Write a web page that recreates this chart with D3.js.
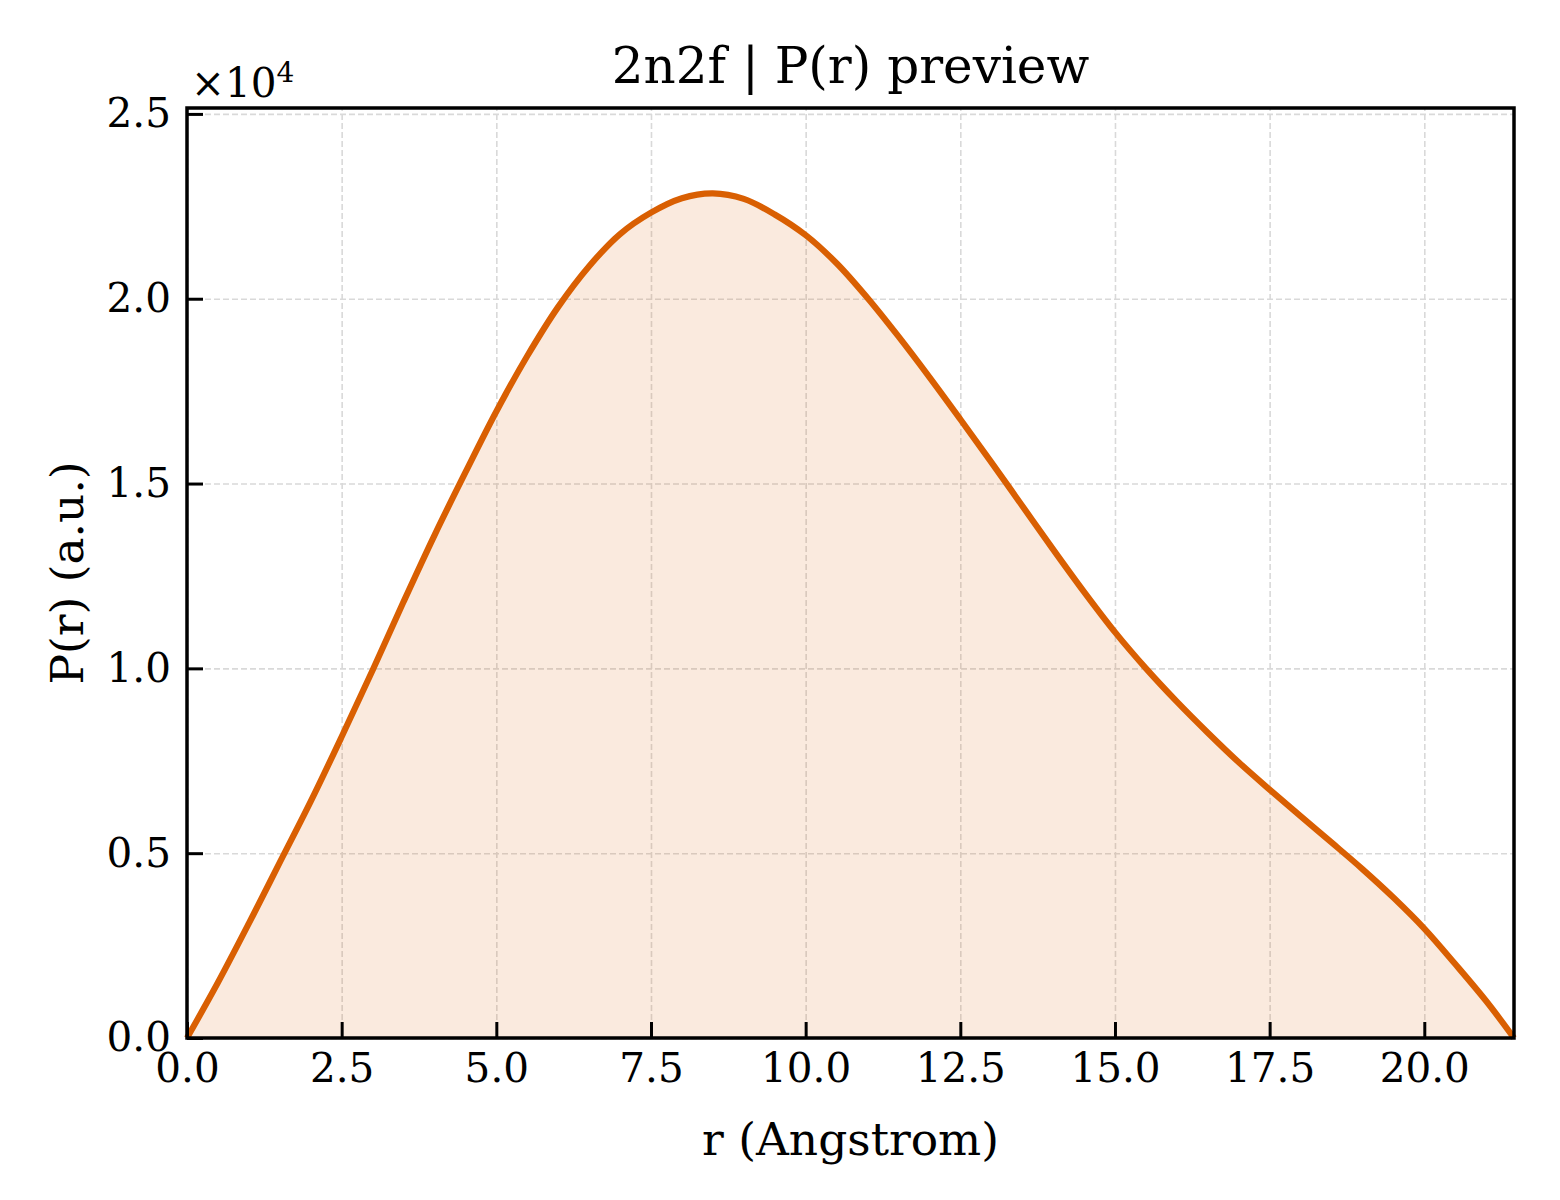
<!DOCTYPE html>
<html lang="en">
<head>
    <meta charset="UTF-8">
    <title>2n2f P(r) preview</title>
    <script src="https://d3js.org/d3.v7.min.js"></script>
    <style>
        body {
            margin: 0;
            padding: 0;
            background-color: #ffffff;
        }
        svg text {
            font-family: "DejaVu Serif", serif;
            fill: #000;
        }
    </style>
</head>
<body>
    <svg width="1560" height="1200"></svg>

    <script>
        // r in Angstrom, P(r) in arbitrary units
        const rValues = [0, 0.5, 1.0, 1.5, 2.0, 2.5, 3.0, 3.5, 4.0, 4.5, 5.0, 5.5, 6.0, 6.5,
            7.0, 7.5, 8.0, 8.5, 9.0, 9.5, 10.0, 10.5, 11.0, 11.5, 12.0, 12.5, 13.0, 13.5,
            14.0, 14.5, 15.0, 15.5, 16.0, 16.5, 17.0, 17.5, 18.0, 18.5, 19.0, 19.5, 20.0,
            20.5, 21.0, 21.45];
        const prValues = [0, 1500, 3100, 4750, 6400, 8150, 9950, 11800, 13600, 15300, 16950,
            18450, 19780, 20880, 21750, 22330, 22720, 22850, 22700, 22280, 21720, 20960,
            20020, 18980, 17880, 16740, 15580, 14400, 13220, 12070, 10980, 10000, 9100,
            8260, 7460, 6720, 6000, 5290, 4570, 3800, 2960, 2000, 1000, 0];

        const xTicks = [0, 2.5, 5, 7.5, 10, 12.5, 15, 17.5, 20];
        const yTicks = [0, 5000, 10000, 15000, 20000, 25000];

        const lineColor = "#d95f02";

        const svg = d3.select("svg");
        const mLeft = 187, mTop = 108, mRight = 1514, mBottom = 1038;
        const width = mRight - mLeft, height = mBottom - mTop;

        const x = d3.scaleLinear().domain([0, 21.45]).range([0, width]);
        const y = d3.scaleLinear().domain([0, 25160]).range([height, 0]);

        const g = svg.append("g").attr("transform", `translate(${mLeft},${mTop})`);

        // grid
        g.append("g")
            .attr("transform", `translate(0,${height})`)
            .call(d3.axisBottom(x).tickValues(xTicks).tickSize(-height).tickFormat(""))
            .call(a => a.select(".domain").remove())
            .selectAll("line")
            .attr("stroke", "#d9d9d9")
            .attr("stroke-width", 1.6)
            .attr("stroke-dasharray", "6,3");

        g.append("g")
            .call(d3.axisLeft(y).tickValues(yTicks).tickSize(-width).tickFormat(""))
            .call(a => a.select(".domain").remove())
            .selectAll("line")
            .attr("stroke", "#d9d9d9")
            .attr("stroke-width", 1.6)
            .attr("stroke-dasharray", "6,3");

        const data = rValues.map((r, i) => ({ r: r, p: prValues[i] }));

        const area = d3.area()
            .x(d => x(d.r))
            .y0(height)
            .y1(d => y(d.p))
            .curve(d3.curveCatmullRom);

        const line = d3.line()
            .x(d => x(d.r))
            .y(d => y(d.p))
            .curve(d3.curveCatmullRom);

        g.append("path")
            .datum(data)
            .attr("d", area)
            .attr("fill", lineColor)
            .attr("fill-opacity", 0.13);

        g.append("path")
            .datum(data)
            .attr("d", line)
            .attr("fill", "none")
            .attr("stroke", lineColor)
            .attr("stroke-width", 6.2)
            .attr("stroke-linejoin", "round");

        // axes with inward ticks
        const xAxis = g.append("g")
            .attr("transform", `translate(0,${height})`)
            .call(d3.axisBottom(x).tickValues(xTicks)
                .tickSizeInner(-16).tickSizeOuter(0).tickPadding(15)
                .tickFormat(d3.format(".1f")));

        const yAxis = g.append("g")
            .call(d3.axisLeft(y).tickValues(yTicks)
                .tickSizeInner(-16).tickSizeOuter(0).tickPadding(16)
                .tickFormat(d => (d / 1e4).toFixed(1)));

        [xAxis, yAxis].forEach(a => {
            a.select(".domain").remove();
            a.selectAll("line").attr("stroke", "#000").attr("stroke-width", 3);
            a.selectAll("text").attr("font-size", 40.5).attr("font-family", "DejaVu Serif");
        });

        // frame
        g.append("rect")
            .attr("width", width)
            .attr("height", height)
            .attr("fill", "none")
            .attr("stroke", "#000")
            .attr("stroke-width", 3.5);

        // offset text
        const offset = svg.append("text")
            .attr("x", 191)
            .attr("y", 97)
            .attr("font-size", 40.5);
        offset.append("tspan").text("×10");
        offset.append("tspan").attr("dy", -15).attr("font-size", 28).text("4");

        // title and labels
        svg.append("text")
            .attr("x", mLeft + width / 2)
            .attr("y", 83)
            .attr("text-anchor", "middle")
            .attr("font-size", 50)
            .text("2n2f | P(r) preview");

        svg.append("text")
            .attr("x", mLeft + width / 2)
            .attr("y", 1155)
            .attr("text-anchor", "middle")
            .attr("font-size", 45.5)
            .text("r (Angstrom)");

        svg.append("text")
            .attr("transform", `translate(83,${mTop + height / 2}) rotate(-90)`)
            .attr("text-anchor", "middle")
            .attr("font-size", 45.5)
            .text("P(r) (a.u.)");
    </script>
</body>
</html>
